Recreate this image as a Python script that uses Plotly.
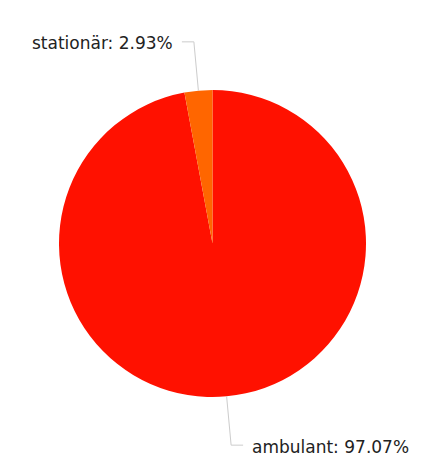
import math
import plotly.graph_objects as go

labels = ["ambulant", "stationär"]
values = [97.07, 2.93]
colors = ["#FF1100", "#FF6600"]

W, H = 433, 456
cx, cy, R = 212.5, 243.5, 153.5
ext = 49      # leader radial extension (px)
horiz = 12    # leader horizontal segment (px)
gap = 8       # gap between leader and label (px)

fig = go.Figure()
fig.add_trace(go.Pie(
    labels=labels, values=values, sort=False, direction="clockwise",
    rotation=0, marker=dict(colors=colors, line=dict(width=0)),
    textinfo="none", hoverinfo="label+percent", showlegend=False,
    domain=dict(x=[(cx - R) / W, (cx + R) / W], y=[(H - cy - R) / H, (H - cy + R) / H]),
))

def px2paper(x, y):
    return x / W, (H - y) / H

shapes, annotations = [], []
total = sum(values)
start = 0.0
for lab, v in zip(labels, values):
    frac = v / total
    mid = (start + frac / 2) * 2 * math.pi  # clockwise from 12 o'clock
    start += frac
    sx, sy = cx + R * math.sin(mid), cy - R * math.cos(mid)
    ex, ey = cx + (R + ext) * math.sin(mid), cy - (R + ext) * math.cos(mid)
    side = 1 if math.sin(mid) > 0 else -1
    hx = ex + side * horiz
    pts = [(sx, sy), (ex, ey), (hx, ey)]
    path = "M " + " L ".join("%f,%f" % px2paper(x, y) for x, y in pts)
    shapes.append(dict(type="path", path=path, xref="paper", yref="paper",
                       line=dict(color="#cccccc", width=1)))
    pct = v / total * 100
    ax, ay = px2paper(hx + side * gap, ey + 1.5)
    annotations.append(dict(
        x=ax, y=ay, xref="paper", yref="paper", showarrow=False,
        text="%s: %.2f%%" % (lab, pct), borderpad=0,
        xanchor="right" if side < 0 else "left", yanchor="middle",
        font=dict(family="DejaVu Sans, Verdana, sans-serif", size=17, color="#222222"),
    ))

fig.update_layout(
    width=W, height=H, margin=dict(l=0, r=0, t=0, b=0),
    paper_bgcolor="white", plot_bgcolor="white",
    shapes=shapes, annotations=annotations,
)
fig.write_html("out.html")
